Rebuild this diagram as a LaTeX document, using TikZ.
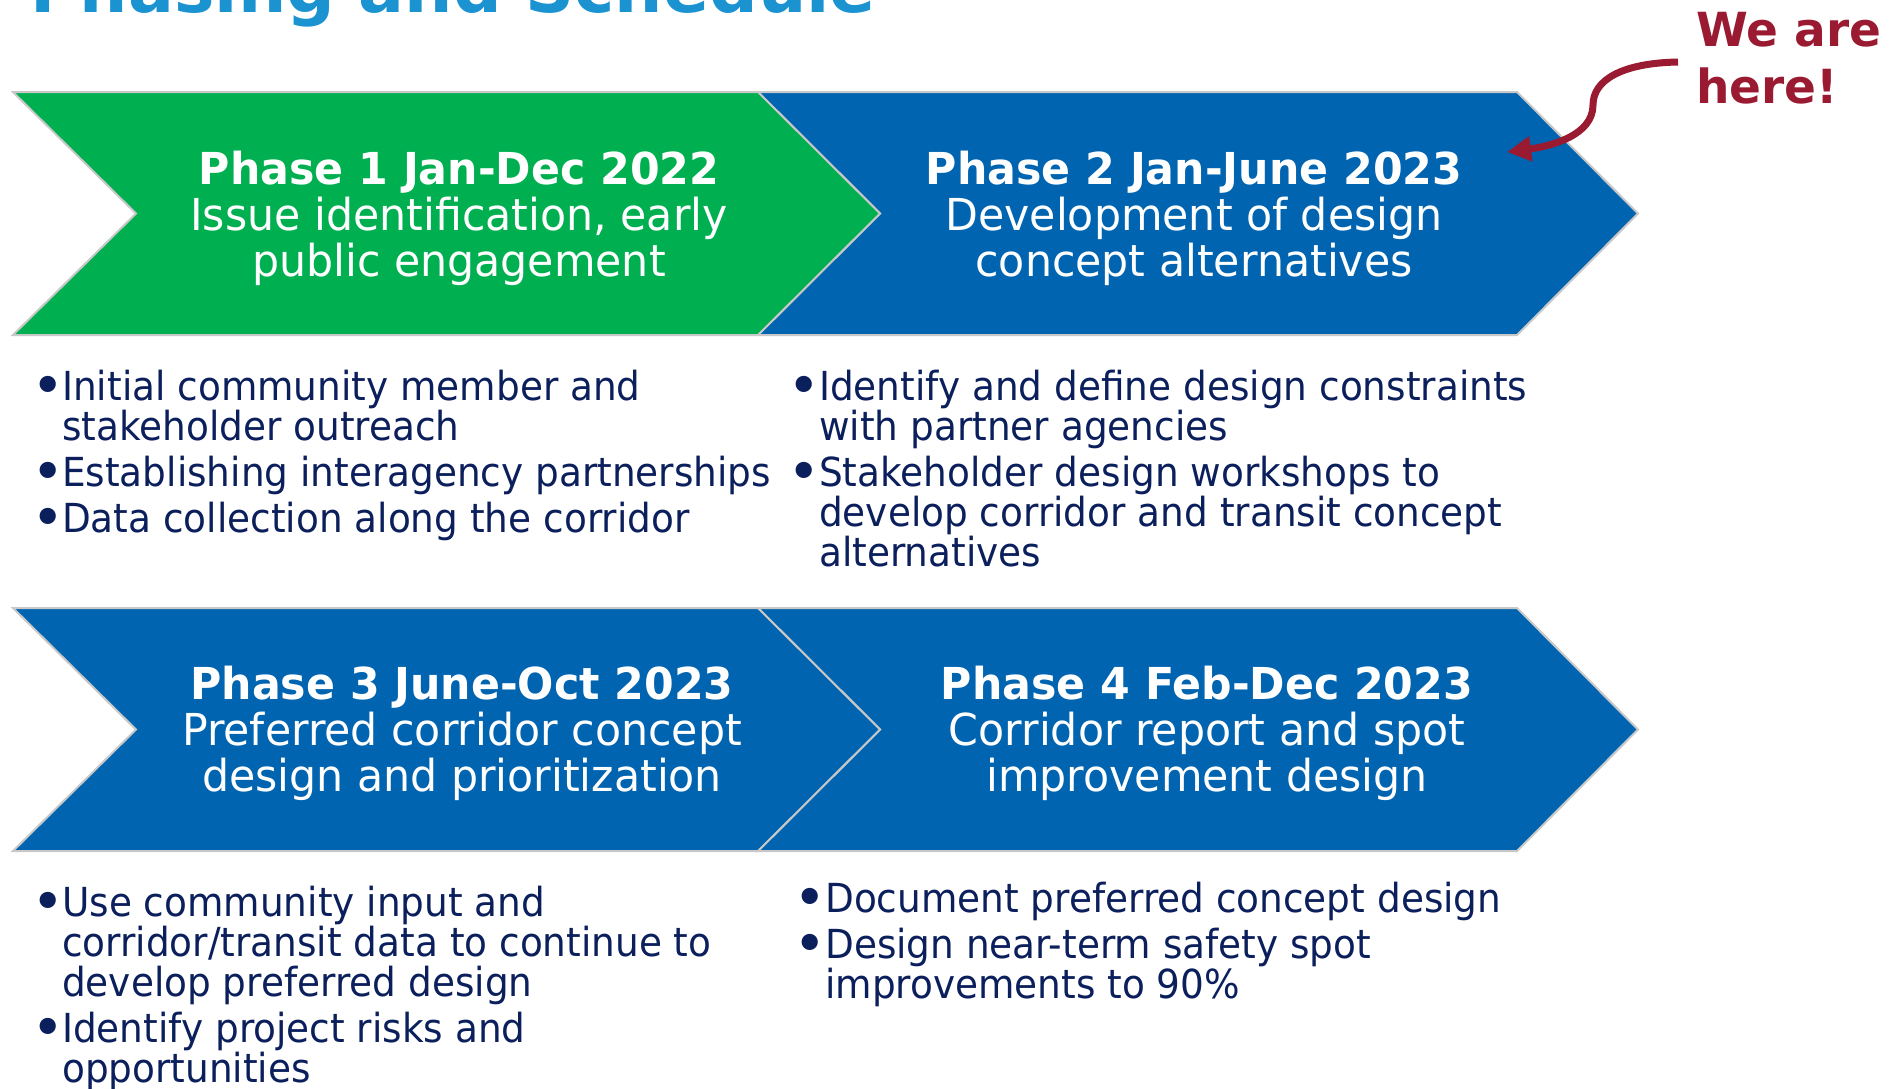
\documentclass[tikz,border=0pt]{standalone}
\usepackage{fontspec}
\setmainfont{DejaVu Sans}
\newfontfamily\chevfont{DejaVu Sans}[FakeStretch=0.97]
\newfontfamily\bulfont{DejaVu Sans}[FakeStretch=0.935]
\usetikzlibrary{arrows.meta}
\definecolor{pgreen}{HTML}{00B050}
\definecolor{pblue}{HTML}{0064B0}
\definecolor{navy}{HTML}{0B1F5C}
\definecolor{titleblue}{HTML}{1B93D1}
\definecolor{herered}{HTML}{9A1A31}
\definecolor{edgegray}{HTML}{C8C8C8}
\begin{document}
\begin{tikzpicture}[x=1pt,y=-1pt,
  chev/.style={draw=edgegray,line width=2pt,line join=miter},
  ptitle/.style={anchor=base,inner sep=0pt,text=white,font=\chevfont\bfseries\fontsize{44}{46}\selectfont},
  pline/.style={anchor=base,inner sep=0pt,text=white,font=\chevfont\fontsize{44}{46}\selectfont},
  bdot/.style={anchor=base,inner sep=0pt,text=navy,font=\bfseries\fontsize{46}{46}\selectfont},
  bline/.style={anchor=base west,inner sep=0pt,text=navy,font=\bulfont\fontsize{40}{40}\selectfont},
  here/.style={anchor=base west,inner sep=0pt,text=herered,font=\bfseries\fontsize{47}{47}\selectfont},
]
\useasboundingbox (0,0) rectangle (1900,1088);
\clip (0,0) rectangle (1900,1088);
\fill[white] (0,0) rectangle (1900,1088);

% title (cut off at top)
\node[anchor=base east,inner sep=0pt,text=titleblue,font=\bfseries\fontsize{68}{68}\selectfont] (title) at (876,12) {Phasing and Schedule};

% chevrons, top row
\draw[chev,fill=pblue] (758,92) -- (1517,92) -- (1638,213.5) -- (1517,335) -- (758,335) -- (880,213.5) -- cycle;
\draw[chev,fill=pgreen] (13,92) -- (758,92) -- (880,213.5) -- (758,335) -- (13,335) -- (136,213.5) -- cycle;
% chevrons, bottom row
\draw[chev,fill=pblue] (758,608) -- (1517,608) -- (1638,729.5) -- (1517,851) -- (758,851) -- (880,729.5) -- cycle;
\draw[chev,fill=pblue] (13,608) -- (758,608) -- (880,729.5) -- (758,851) -- (13,851) -- (136,729.5) -- cycle;

% chevron texts
\node[ptitle] (p1a) at (459,184) {Phase 1 Jan-Dec 2022};
\node[pline]  (p1b) at (459,230) {Issue identification, early};
\node[pline]  (p1c) at (459,276) {public engagement};

\node[ptitle] (p2a) at (1194,184) {Phase 2 Jan-June 2023};
\node[pline]  (p2b) at (1194,230) {Development of design};
\node[pline]  (p2c) at (1194,276) {concept alternatives};

\node[ptitle] (p3a) at (462,699) {Phase 3 June-Oct 2023};
\node[pline]  (p3b) at (462,745) {Preferred corridor concept};
\node[pline]  (p3c) at (462,791) {design and prioritization};

\node[ptitle] (p4a) at (1207,699) {Phase 4 Feb-Dec 2023};
\node[pline]  (p4b) at (1207,745) {Corridor report and spot};
\node[pline]  (p4c) at (1207,791) {improvement design};

% bullets, phase 1
\node[bdot]  (d11) at (48,401) {•};
\node[bline] (b11) at (62,400) {Initial community member and};
\node[bline] (b12) at (62,440) {stakeholder outreach};
\node[bdot]  (d12) at (48,487) {•};
\node[bline] (b13) at (62,486) {Establishing interagency partnerships};
\node[bdot]  (d13) at (48,533) {•};
\node[bline] (b14) at (62,532) {Data collection along the corridor};

% bullets, phase 2
\node[bdot]  (d21) at (804,401) {•};
\node[bline] (b21) at (819,400) {Identify and define design constraints};
\node[bline] (b22) at (819,440) {with partner agencies};
\node[bdot]  (d22) at (804,487) {•};
\node[bline] (b23) at (819,486) {Stakeholder design workshops to};
\node[bline] (b24) at (819,526) {develop corridor and transit concept};
\node[bline] (b25) at (819,566) {alternatives};

% bullets, phase 3
\node[bdot]  (d31) at (48,917) {•};
\node[bline] (b31) at (62,916) {Use community input and};
\node[bline] (b32) at (62,956) {corridor/transit data to continue to};
\node[bline] (b33) at (62,996) {develop preferred design};
\node[bdot]  (d32) at (48,1043) {•};
\node[bline] (b34) at (62,1042) {Identify project risks and};
\node[bline] (b35) at (62,1082) {opportunities};

% bullets, phase 4
\node[bdot]  (d41) at (810,913) {•};
\node[bline] (b41) at (825,912) {Document preferred concept design};
\node[bdot]  (d42) at (810,959) {•};
\node[bline] (b42) at (825,958) {Design near-term safety spot};
\node[bline] (b43) at (825,998) {improvements to 90\%};

% we are here
\node[here] (we)  at (1696,46)  {We are};
\node[here] (hre) at (1696,103) {here!};
\coordinate (arrstart) at (1678,62);
\coordinate (arrtip) at (1507,152);
\draw[herered,line width=7pt,-{Triangle[length=24pt,width=24pt]}]
  (arrstart) .. controls (1622,63) and (1593,80) .. (1593,105)
  .. controls (1593,135) and (1552,146) .. (arrtip);
\end{tikzpicture}
\end{document}
